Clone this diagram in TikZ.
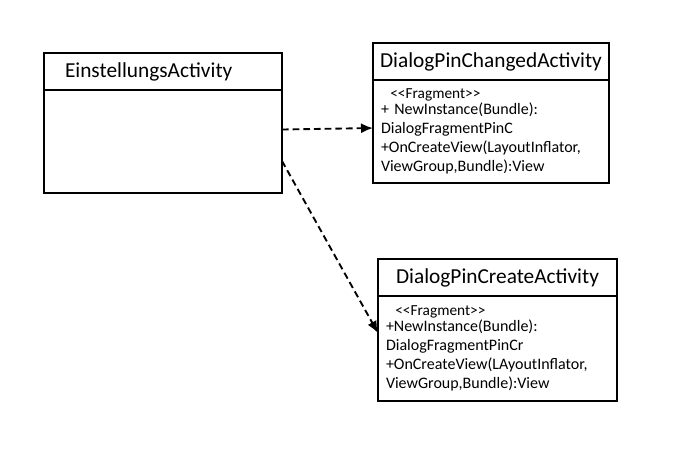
\documentclass[tikz,border=0pt]{standalone}
\usepackage{fontspec}
\setmainfont{Carlito}
\usetikzlibrary{positioning,arrows.meta}

\begin{document}
\begin{tikzpicture}[x=0.75pt,y=-0.75pt,
  classtitle/.style={shape=rectangle,draw=black,line width=1.5pt,outer sep=0pt,
    minimum height=27.75pt,inner sep=0pt,font=\fontsize{16}{18}\selectfont},
  classbody/.style={shape=rectangle,draw=black,line width=1.5pt,outer sep=0pt,
    minimum height=77.25pt,inner xsep=6pt,inner ysep=0pt,align=left,
    font=\fontsize{12}{14.25}\selectfont},
  dep/.style={line width=1.4pt,dash pattern=on 5pt off 3pt,-{Latex[length=9pt,width=7.5pt]}}]
  \useasboundingbox (0,0) rectangle (700,455);
  \newcommand{\frag}{\hspace*{7pt}{\fontsize{11.5}{12}\selectfont <\kern0pt<Fragment>\kern0pt>}\\[-2.5pt]}
  \node[classtitle,anchor=north west,minimum width=178.5pt,text width=147pt,inner xsep=15.75pt,align=left] (einst) at (44,53) {EinstellungsActivity};
  \node[classbody,minimum width=178.5pt,text width=166.5pt,minimum height=77.25pt,below=0pt of einst] (einstbody) {};
  \node[classtitle,anchor=north west,minimum width=177pt] (changed) at (373,43) {DialogPinChangedActivity};
  \node[classbody,text width=165pt,below=0pt of changed] (changedbody) {\frag
    + NewInstance(Bundle):\\
    DialogFragmentPinC\\
    +OnCreateView(LayoutInflator,\\
    ViewGroup,Bundle):View};
  \node[classtitle,anchor=north west,minimum width=179.25pt] (create) at (378,259) {DialogPinCreateActivity};
  \node[classbody,text width=167.25pt,minimum height=78.75pt,below=0pt of create] (createbody) {\frag
    +NewInstance(Bundle):\\
    DialogFragmentPinCr\\
    +OnCreateView(LAyoutInflator,\\
    ViewGroup,Bundle):View};
  \draw[dep] ([yshift=9pt]einstbody.east) -- ([yshift=2.6pt]changedbody.west);
  \draw[dep] ([yshift=-14.6pt]einstbody.east) -- ([yshift=11.6pt]createbody.west);
\end{tikzpicture}
\end{document}
